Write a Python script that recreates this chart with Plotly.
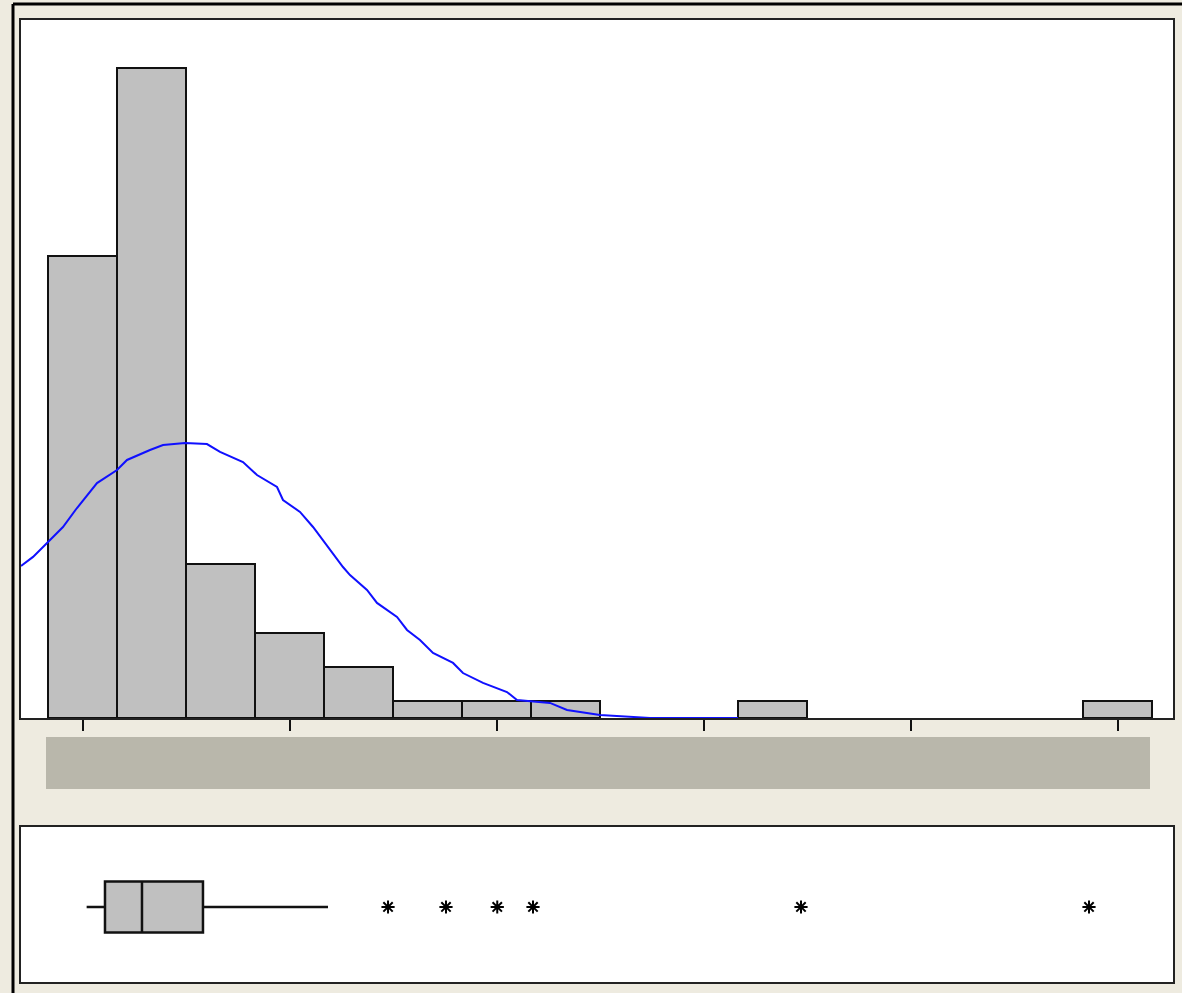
import plotly.graph_objects as go

# ---- data (arbitrary x units: one unit = one bin) ----
bin_centers = [1, 2, 3, 4, 5, 6, 7, 8, 9, 10, 11, 12, 13, 14, 15, 16]
counts = [27, 38, 9, 5, 3, 1, 1, 1, 0, 0, 1, 0, 0, 0, 0, 1]

curve_x = [0.109, 0.283, 0.486, 0.717, 0.920, 1.210, 1.500, 1.645, 1.978, 2.167,
           2.486, 2.804, 2.993, 3.326, 3.529, 3.819, 3.906, 4.152, 4.341, 4.587,
           4.775, 4.877, 5.123, 5.268, 5.558, 5.703, 5.891, 6.080, 6.370, 6.514,
           6.804, 7.152, 7.297, 7.775, 8.022, 8.500, 9.225, 10.500]
curve_y = [8.89, 9.42, 10.23, 11.17, 12.28, 13.74, 14.50, 15.09, 15.67, 15.96,
           16.08, 16.02, 15.56, 14.97, 14.21, 13.51, 12.75, 12.05, 11.17, 9.82,
           8.83, 8.36, 7.49, 6.73, 5.91, 5.15, 4.56, 3.80, 3.22, 2.63,
           2.05, 1.52, 1.05, 0.88, 0.47, 0.18, 0.0, 0.0]

box_lowerfence = 1.06
box_q1 = 1.326
box_median = 1.862
box_q3 = 2.746
box_upperfence = 4.558
outliers = [5.428, 6.268, 7.011, 7.529, 11.413, 15.587]

tick_positions = [1, 4, 7, 10, 13, 16]

# ---- figure ----
W, H = 1182, 993
bar_x = [c for c, n in zip(bin_centers, counts) if n > 0]
bar_y = [n for n in counts if n > 0]

fig = go.Figure()
fig.add_trace(go.Bar(
    x=bar_x, y=bar_y, width=1.0,
    marker=dict(color="#C0C0C0", line=dict(color="#111111", width=2)),
    xaxis="x", yaxis="y", hoverinfo="skip", showlegend=False,
))
fig.add_trace(go.Scatter(
    x=curve_x, y=curve_y, mode="lines",
    line=dict(color="#1010FF", width=2),
    xaxis="x", yaxis="y", hoverinfo="skip", showlegend=False,
))
fig.add_trace(go.Box(
    y=[0], q1=[box_q1], median=[box_median], q3=[box_q3],
    lowerfence=[box_lowerfence], upperfence=[box_upperfence],
    orientation="h", width=0.99, whiskerwidth=0, boxpoints=False,
    fillcolor="#C0C0C0", line=dict(color="#111111", width=2.5),
    xaxis="x2", yaxis="y2", hoverinfo="skip", showlegend=False,
))
fig.add_trace(go.Scatter(
    x=outliers, y=[0] * len(outliers), mode="markers",
    marker=dict(symbol="asterisk", size=11, color="#000000",
                line=dict(color="#000000", width=2)),
    xaxis="x2", yaxis="y2", hoverinfo="skip", showlegend=False,
))

xr = [(21 - 82.5) / 69 + 1, (1173 - 82.5) / 69 + 1]
xdom = [21 / W, 1173 / W]
frame = "#222222"

fig.update_layout(
    width=W, height=H, autosize=False,
    margin=dict(l=0, r=0, t=0, b=0, pad=0),
    paper_bgcolor="#EEEBE0", plot_bgcolor="#FFFFFF",
    bargap=0, showlegend=False,
    xaxis=dict(domain=xdom, range=xr, showgrid=False, zeroline=False,
               showline=True, mirror=True, linecolor=frame, linewidth=2,
               ticks="outside", ticklen=11, tickwidth=2, tickcolor="#111111",
               tickvals=tick_positions, showticklabels=False,
               layer="below traces", fixedrange=True),
    yaxis=dict(domain=[1 - 718 / H, 1 - 20 / H], range=[0, (718 - 20) / 17.1],
               showgrid=False, zeroline=False, showline=True, mirror=True,
               linecolor=frame, linewidth=2, ticks="", showticklabels=False,
               layer="below traces", fixedrange=True),
    xaxis2=dict(domain=xdom, range=xr, anchor="y2", showgrid=False, zeroline=False,
                showline=True, mirror=True, linecolor=frame, linewidth=2,
                ticks="", showticklabels=False, fixedrange=True),
    yaxis2=dict(domain=[1 - 982 / H, 1 - 827 / H], range=[-1.452, 1.548], anchor="x2",
                showgrid=False, zeroline=False, showline=True, mirror=True,
                linecolor=frame, linewidth=2, ticks="", showticklabels=False,
                fixedrange=True),
    shapes=[
        dict(type="rect", xref="paper", yref="paper",
             x0=46 / W, x1=1150 / W, y0=1 - 789 / H, y1=1 - 737 / H,
             fillcolor="#B9B7AB", line=dict(width=0), layer="below"),
        dict(type="line", xref="paper", yref="paper",
             x0=13 / W, x1=13 / W, y0=0, y1=1 - 4 / H,
             line=dict(color="#000000", width=3)),
        dict(type="line", xref="paper", yref="paper",
             x0=13 / W, x1=1, y0=1 - 4 / H, y1=1 - 4 / H,
             line=dict(color="#000000", width=3)),
    ],
)

fig.write_html("out.html", config={"displayModeBar": False})
